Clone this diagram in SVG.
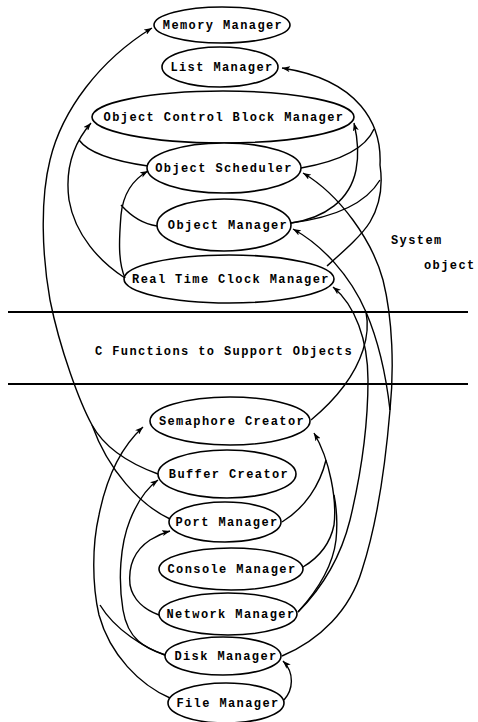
<svg xmlns="http://www.w3.org/2000/svg" width="478" height="722" viewBox="0 0 478 722">
  <defs>
    <style>
      .node ellipse { fill: #fff; stroke: #000; stroke-width: 1.6; }
      .lbl { font-family: "Liberation Mono", "DejaVu Sans Mono", monospace; font-size: 12px; font-weight: bold; letter-spacing: 1.4px; fill: #000; }
      .node text { text-anchor: middle; }
      .edge { fill: none; stroke: #000; stroke-width: 1.4; }
      .arr { marker-end: url(#head); }
      .rule { stroke: #000; stroke-width: 2.2; }
    </style>
    <marker id="head" viewBox="0 0 8 6" refX="8" refY="3" markerWidth="8" markerHeight="6" markerUnits="userSpaceOnUse" orient="auto">
      <path d="M0,0 L8,3 L0,6 L2,3 z" fill="#000"/>
    </marker>
  </defs>

  <rect width="478" height="722" fill="#fff"/>

  <!-- layer separators -->
  <line class="rule" x1="8" y1="312" x2="468" y2="312"/>
  <line class="rule" x1="8" y1="384" x2="468" y2="384"/>
  <text class="lbl" x="95" y="355">C Functions to Support Objects</text>
  <text class="lbl" x="391" y="244">System</text>
  <text class="lbl" x="424" y="269">object</text>

  <!-- system objects -->
  <g id="memory-manager" class="node"><ellipse cx="222" cy="25" rx="68" ry="18"/><text class="lbl" x="223" y="29">Memory Manager</text></g>
  <g id="list-manager" class="node"><ellipse cx="220" cy="67" rx="58" ry="20"/><text class="lbl" x="222" y="71">List Manager</text></g>
  <g id="ocb-manager" class="node"><ellipse cx="223" cy="117" rx="131" ry="26"/><text class="lbl" x="224" y="121">Object Control Block Manager</text></g>
  <g id="object-scheduler" class="node"><ellipse cx="224" cy="168" rx="77" ry="25"/><text class="lbl" x="224" y="172">Object Scheduler</text></g>
  <g id="object-manager" class="node"><ellipse cx="224" cy="225" rx="67" ry="26"/><text class="lbl" x="228" y="229">Object Manager</text></g>
  <g id="rtc-manager" class="node"><ellipse cx="229" cy="279" rx="105" ry="24"/><text class="lbl" x="231" y="283">Real Time Clock Manager</text></g>

  <!-- support functions -->
  <g id="semaphore-creator" class="node"><ellipse cx="230" cy="421" rx="80" ry="24"/><text class="lbl" x="232" y="425">Semaphore Creator</text></g>
  <g id="buffer-creator" class="node"><ellipse cx="227" cy="474" rx="69" ry="24"/><text class="lbl" x="229" y="478">Buffer Creator</text></g>
  <g id="port-manager" class="node"><ellipse cx="225" cy="522" rx="56" ry="20"/><text class="lbl" x="227" y="526">Port Manager</text></g>
  <g id="console-manager" class="node"><ellipse cx="231" cy="569" rx="72" ry="21"/><text class="lbl" x="232" y="573">Console Manager</text></g>
  <g id="network-manager" class="node"><ellipse cx="228" cy="614" rx="69" ry="21"/><text class="lbl" x="231" y="618">Network Manager</text></g>
  <g id="disk-manager" class="node"><ellipse cx="223" cy="656" rx="58" ry="19"/><text class="lbl" x="226" y="660">Disk Manager</text></g>
  <g id="file-manager" class="node"><ellipse cx="226" cy="703" rx="58" ry="20"/><text class="lbl" x="228" y="707">File Manager</text></g>

  <g id="connectors">
    <!-- buffer / port -> memory manager -->
    <path class="edge arr" d="M158,474 C125,462 103,445 92,425 C80,403 60,350 50,300 C42,255 40,200 50,160 C62,110 100,60 152,28"/>
    <path class="edge" d="M170,519 C140,505 108,470 92,425"/>
    <!-- real time clock / scheduler -> control block manager -->
    <path class="edge arr" d="M125,278 C100,262 75,235 69,200 C65,170 72,145 91,123"/>
    <path class="edge" d="M148,166 C120,162 90,155 79,140"/>
    <!-- real time clock / object manager -> scheduler -->
    <path class="edge arr" d="M125,278 C118,262 119,240 121,215 C123,195 132,180 148,171"/>
    <path class="edge" d="M157,226 C143,224 130,215 121,205"/>
    <!-- clock / scheduler / object manager -> list manager -->
    <path class="edge arr" d="M327,266 C345,250 362,235 370,222 C380,205 383,185 380,165 C382,125 360,80 282,68"/>
    <path class="edge" d="M301,168 C335,162 365,150 374,129"/>
    <path class="edge" d="M291,223 C330,218 365,205 380,180"/>
    <!-- object manager -> control block manager -->
    <path class="edge arr" d="M291,223 C325,218 350,200 356,170 C359,155 358,140 354,123"/>
    <!-- disk manager -> scheduler and object manager -->
    <path class="edge" d="M282,656 C320,640 350,610 362,570 C375,530 385,470 390,410"/>
    <path class="edge arr" d="M390,410 C394,370 393,320 383,280 C372,240 340,195 303,173"/>
    <path class="edge arr" d="M390,410 C386,375 378,340 366,312 C350,275 322,245 293,229"/>
    <!-- semaphore creator -> object manager -->
    <path class="edge" d="M311,420 C335,400 355,375 363,350 C368,335 368,322 366,312"/>
    <!-- network manager -> real time clock -->
    <path class="edge arr" d="M298,612 C320,590 340,560 350,520 C362,470 368,420 368,380 C368,340 355,305 333,287"/>
    <!-- console / network / port -> semaphore creator -->
    <path class="edge arr" d="M303,567 C318,558 330,545 334,525 C337,500 330,460 314,433"/>
    <path class="edge" d="M298,612 C318,590 333,565 336,540 C338,520 336,505 334,495"/>
    <path class="edge" d="M282,522 C305,508 320,485 326,460"/>
    <!-- file manager -> disk manager -->
    <path class="edge arr" d="M284,700 C293,690 295,673 283,661"/>
    <!-- file / disk -> semaphore creator -->
    <path class="edge arr" d="M170,698 C140,685 110,655 99,615 C92,585 92,545 99,515 C106,480 120,448 143,427"/>
    <path class="edge" d="M165,655 C145,648 115,630 100,605"/>
    <!-- disk -> buffer creator -->
    <path class="edge arr" d="M165,655 C145,648 128,640 123,610 C118,580 120,545 130,520 C138,500 147,488 158,480"/>
    <!-- network -> port manager -->
    <path class="edge arr" d="M159,615 C145,610 133,600 130,585 C128,565 135,550 150,540 C158,535 163,533 170,531"/>
  </g>
</svg>
